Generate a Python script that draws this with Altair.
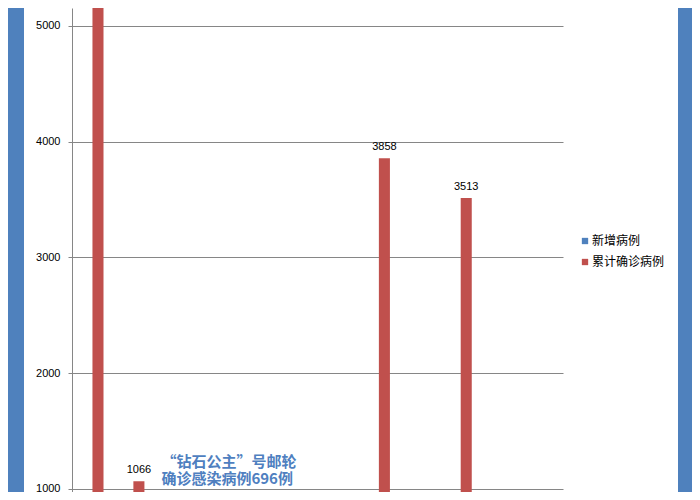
import altair as alt
import pandas as pd

categories = ["韩国", "日本", "新加坡", "美国", "德国", "法国", "西班牙", "意大利", "英国", "伊朗", "瑞士", "科威特"]
series = ["新增病例", "累计确诊病例"]
new_cases = [467, 30, 5, 31, 87, 138, 60, 769, 29, 591, 32, 2]
total_cases = [6088, 1066, 117, 159, 349, 423, 257, 3858, 116, 3513, 90, 58]
y_ticks = [1000, 2000, 3000, 4000, 5000]
note_lines = ["“钻石公主”号邮轮", "确诊感染病例696例"]
note_anchor = ["日本", 1192]

rows = []
for c, n, t in zip(categories, new_cases, total_cases):
    rows.append({"国家": c, "系列": series[0], "值": n})
    rows.append({"国家": c, "系列": series[1], "值": t})
df = pd.DataFrame(rows)
note_df = pd.DataFrame({"国家": [note_anchor[0]], "值": [note_anchor[1]], "文本": [note_lines]})
bg_df = pd.DataFrame({"k": [0]})

GRID = "#868686"
STRIPE = "#4F81BD"
x_enc = alt.X("国家:N", sort=categories,
              scale=alt.Scale(paddingInner=0.46, paddingOuter=0.23),
              axis=None)
y_enc = alt.Y("值:Q", scale=alt.Scale(domain=[974, 5155], nice=False, zero=False),
              axis=alt.Axis(title=None, values=y_ticks, format="d", gridColor=GRID,
                            gridOpacity=1, domainColor=GRID, tickColor=GRID, tickSize=4,
                            labelPadding=8, labelFont="Liberation Sans", labelFontSize=11,
                            labelColor="black"))
xo = alt.XOffset("系列:N", sort=series, scale=alt.Scale(paddingInner=0, paddingOuter=0))

left_stripe = alt.Chart(bg_df).mark_rect(color=STRIPE, clip=False).encode(
    x=alt.value(-72), x2=alt.value(-48), y=alt.value(-20), y2=alt.value(600))
right_stripe = alt.Chart(bg_df).mark_rect(color=STRIPE, clip=False).encode(
    x=alt.value(606), x2=alt.value(640), y=alt.value(-20), y2=alt.value(600))

base = alt.Chart(df)
bars = base.mark_bar(clip=True).encode(
    x=x_enc, xOffset=xo, y=y_enc,
    color=alt.Color("系列:N", sort=series,
                    scale=alt.Scale(domain=series, range=["#4F81BD", "#C0504D"]),
                    legend=alt.Legend(title=None, orient="none", legendX=507, legendY=227,
                                      symbolType="square", symbolSize=40,
                                      symbolStrokeWidth=0, labelFont="Noto Sans CJK SC",
                                      labelFontSize=12, labelColor="black",
                                      labelOffset=1, rowPadding=9, padding=0)))
labels = base.mark_text(clip=True, baseline="alphabetic", dy=-8, font="Liberation Sans",
                        fontSize=11, color="black").encode(
    x=alt.X("国家:N", sort=categories), xOffset=xo, y="值:Q", text="值:Q")
note = alt.Chart(note_df).mark_text(align="left", baseline="alphabetic", dx=28,
                                    font="Noto Sans CJK SC", fontSize=15,
                                    fontWeight="bold", color="#4F7FC0",
                                    lineHeight=17).encode(
    x=alt.X("国家:N", sort=categories), y="值:Q", text="文本")

chart = alt.layer(left_stripe, right_stripe, bars, labels, note).properties(
    width=491, height=484, background="white",
    padding={"left": 64, "right": 129, "top": 0, "bottom": 0},
    autosize=alt.AutoSizeParams(type="none")
).configure_view(stroke=None)

chart.save("out.html", embed_options={"renderer": "svg", "actions": False})
